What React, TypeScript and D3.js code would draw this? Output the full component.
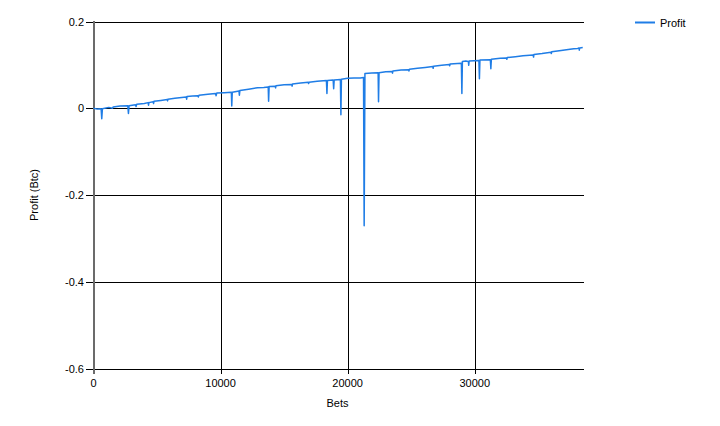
import React, { useEffect, useRef } from "react";
import * as d3 from "d3";

const bets: number[] = [
  0, 300, 600, 650, 700, 1200, 1500, 1550, 2100, 2700, 2750, 2800, 3300, 3350, 3400, 4000, 4300, 4330, 4360,
  4700, 4730, 4760, 5300, 5800, 5830, 5860, 6400, 7300, 7330, 7360, 7800, 8200, 8250, 8300, 9000, 9600, 9650,
  9700, 10300, 10850, 10880, 10920, 11450, 11480, 11520, 12200, 12900, 13400, 13750, 13780, 13820, 14300,
  14330, 14360, 15000, 15600, 15630, 15660, 16300, 16900, 16930, 16960, 17600, 18330, 18370, 18410, 18860,
  18900, 18940, 19430, 19470, 19510, 20000, 20500, 21000, 21250, 21300, 21360, 21900, 22400, 22430, 22470,
  23000, 23500, 23530, 23560, 24200, 24800, 24830, 24860, 25500, 26100, 26700, 26730, 26760, 27400, 28000,
  28030, 28060, 28950, 28990, 29030, 29300, 29500, 29530, 29560, 30330, 30370, 30410, 31230, 31270, 31310,
  32000, 32500, 32530, 32560, 33200, 33800, 34600, 34630, 34660, 35300, 36000, 36030, 36060, 36800, 37500,
  37800, 38100, 38200, 38230, 38260, 38500,
];

const profit: number[] = [
  0.0, -0.002, -0.001, -0.024, -0.001, 0.002, 0.0, 0.003, 0.005, 0.006, -0.012, 0.006, 0.008, 0.004, 0.009,
  0.011, 0.013, 0.007, 0.013, 0.015, 0.011, 0.016, 0.018, 0.02, 0.017, 0.021, 0.023, 0.026, 0.021, 0.027,
  0.028, 0.029, 0.026, 0.03, 0.032, 0.034, 0.029, 0.035, 0.036, 0.037, 0.005, 0.037, 0.04, 0.03, 0.041,
  0.044, 0.047, 0.048, 0.049, 0.016, 0.05, 0.051, 0.047, 0.052, 0.054, 0.055, 0.051, 0.056, 0.058, 0.06,
  0.057, 0.06, 0.062, 0.064, 0.034, 0.064, 0.065, 0.045, 0.065, 0.066, -0.015, 0.067, 0.069, 0.07, 0.07,
  0.071, -0.271, 0.08, 0.081, 0.082, 0.015, 0.082, 0.084, 0.085, 0.081, 0.086, 0.088, 0.089, 0.086, 0.09,
  0.092, 0.094, 0.096, 0.092, 0.097, 0.099, 0.101, 0.098, 0.102, 0.104, 0.034, 0.108, 0.109, 0.108, 0.099,
  0.109, 0.11, 0.068, 0.111, 0.112, 0.091, 0.113, 0.115, 0.116, 0.113, 0.117, 0.119, 0.121, 0.123, 0.118,
  0.124, 0.126, 0.129, 0.126, 0.13, 0.133, 0.136, 0.137, 0.138, 0.139, 0.134, 0.139, 0.14,
];

const xTicks: number[] = [0, 10000, 20000, 30000];
const yTicks: number[] = [0.2, 0, -0.2, -0.4, -0.6];
const seriesName = "Profit";
const xTitle = "Bets";
const yTitle = "Profit (Btc)";

const W = 720;
const H = 426;
const FONT = "'Liberation Sans', Arial, sans-serif";

export default function App() {
  const ref = useRef<SVGSVGElement | null>(null);

  useEffect(() => {
    const svg = d3.select(ref.current);
    svg.selectAll("*").remove();

    const left = 93.5;
    const right = 584;
    const top = 21.5;
    const bottom = 368.5;

    const x = d3.scaleLinear().domain([0, 38600]).range([left, right]);
    const y = d3.scaleLinear().domain([-0.6, 0.2]).range([bottom, top]);

    svg.append("rect").attr("width", W).attr("height", H).attr("fill", "#ffffff");

    const g = svg.append("g").attr("shape-rendering", "crispEdges");
    yTicks.forEach((t) => {
      const yy = Math.round(y(t)) + 0.5;
      g.append("line")
        .attr("x1", left - 8)
        .attr("x2", right)
        .attr("y1", yy)
        .attr("y2", yy)
        .attr("stroke", "#000")
        .attr("stroke-width", 1);
    });
    xTicks.forEach((t) => {
      if (t === 0) return;
      const xx = Math.round(x(t)) + 0.5;
      g.append("line")
        .attr("x1", xx)
        .attr("x2", xx)
        .attr("y1", top)
        .attr("y2", bottom + 5)
        .attr("stroke", "#000")
        .attr("stroke-width", 1);
    });
    g.append("line")
      .attr("x1", left)
      .attr("x2", left)
      .attr("y1", top - 1)
      .attr("y2", bottom + 5)
      .attr("stroke", "#6b6b6b")
      .attr("stroke-width", 2);

    yTicks.forEach((t) => {
      svg.append("text")
        .attr("x", 84)
        .attr("y", y(t) + 4)
        .attr("text-anchor", "end")
        .attr("font-family", FONT)
        .attr("font-size", 11)
        .attr("fill", "#000")
        .text(t === 0 ? "0" : String(t));
    });
    xTicks.forEach((t) => {
      svg.append("text")
        .attr("x", x(t))
        .attr("y", 387)
        .attr("text-anchor", "middle")
        .attr("font-family", FONT)
        .attr("font-size", 11)
        .attr("fill", "#000")
        .text(String(t));
    });

    svg.append("text")
      .attr("x", 337.5)
      .attr("y", 407)
      .attr("text-anchor", "middle")
      .attr("font-family", FONT)
      .attr("font-size", 11)
      .attr("fill", "#000")
      .text(xTitle);
    svg.append("text")
      .attr("transform", `translate(38,195) rotate(-90)`)
      .attr("text-anchor", "middle")
      .attr("font-family", FONT)
      .attr("font-size", 11)
      .attr("fill", "#000")
      .text(yTitle);

    const data = bets.map((b, i) => [b, profit[i]] as [number, number]);
    const line = d3
      .line<[number, number]>()
      .x((d) => x(d[0]))
      .y((d) => y(d[1]));
    svg.append("path")
      .datum(data)
      .attr("d", line)
      .attr("fill", "none")
      .attr("stroke", "#1f7de6")
      .attr("stroke-width", 1.5)
      .attr("stroke-linejoin", "round");

    svg.append("line")
      .attr("x1", 635)
      .attr("x2", 655)
      .attr("y1", 22.5)
      .attr("y2", 22.5)
      .attr("stroke", "#1f7de6")
      .attr("stroke-width", 2);
    svg.append("text")
      .attr("x", 660)
      .attr("y", 27)
      .attr("font-family", FONT)
      .attr("font-size", 11)
      .attr("fill", "#000")
      .text(seriesName);
  }, []);

  return (
    <svg
      ref={ref}
      width={W}
      height={H}
      style={{ position: "absolute", left: 0, top: 0, display: "block" }}
    />
  );
}
